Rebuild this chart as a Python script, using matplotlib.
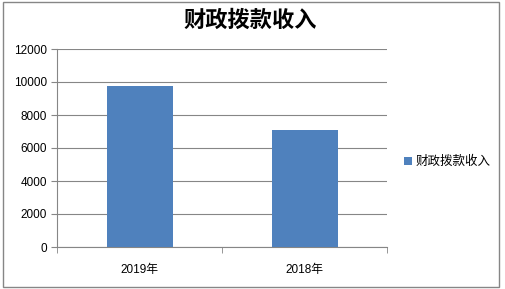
import matplotlib
matplotlib.use("Agg")
import matplotlib.pyplot as plt
from matplotlib.patches import Rectangle

plt.rcParams['font.family'] = ['Liberation Sans', 'Noto Sans CJK SC']

# ==========================
# data
# ==========================
years = ["2019年", "2018年"]
income = [9760, 7090]
series_name = "财政拨款收入"
y_ticks = [0, 2000, 4000, 6000, 8000, 10000, 12000]

fig = plt.figure(figsize=(5.05, 2.89), dpi=100)
W, H = 505, 289

# plot area in pixels: x 57..387, y 49..247 (from top)
ax = fig.add_axes([57 / W, 1 - 247 / H, 330 / W, 198 / H])

x = range(len(years))
ax.bar(x, income, width=0.4, color="#4F81BD", label=series_name, zorder=3)

ax.set_xlim(-0.5, len(years) - 0.5)
ax.set_ylim(0, 12000)
ax.set_yticks(y_ticks)
ax.set_yticklabels([str(v) for v in y_ticks], fontsize=8.5)
ax.set_xticks(list(x))
ax.set_xticklabels(years, fontsize=8.5)
ax.tick_params(axis="x", length=0, pad=12)
ax.tick_params(axis="y", length=4, color="#868686", pad=3)

# category boundary ticks
ax.set_xticks([-0.5, 0.5, 1.5], minor=True)
ax.tick_params(axis="x", which="minor", length=4, color="#868686")

ax.grid(axis="y", color="#868686", linewidth=0.8, zorder=0)
for side in ["top", "right"]:
    ax.spines[side].set_visible(False)
ax.spines["left"].set_color("#868686")
ax.spines["bottom"].set_color("#868686")

fig.text(250 / W, 1 - 20 / H, series_name, fontsize=16, fontweight="bold",
         ha="center", va="center", family=["Noto Sans CJK SC"])

leg = fig.legend(loc="center left", bbox_to_anchor=(398 / W, 1 - 162 / H),
                 frameon=False, fontsize=9, handlelength=0.6, handleheight=0.6,
                 handletextpad=0.3, borderpad=0)

# outer chart border
fig.patches.append(Rectangle((3 / W, 1 - 287 / H), 496 / W, 285 / H,
                             transform=fig.transFigure, fill=False,
                             edgecolor="#868686", linewidth=1))

plt.savefig("out.png", dpi=100)
plt.close()
